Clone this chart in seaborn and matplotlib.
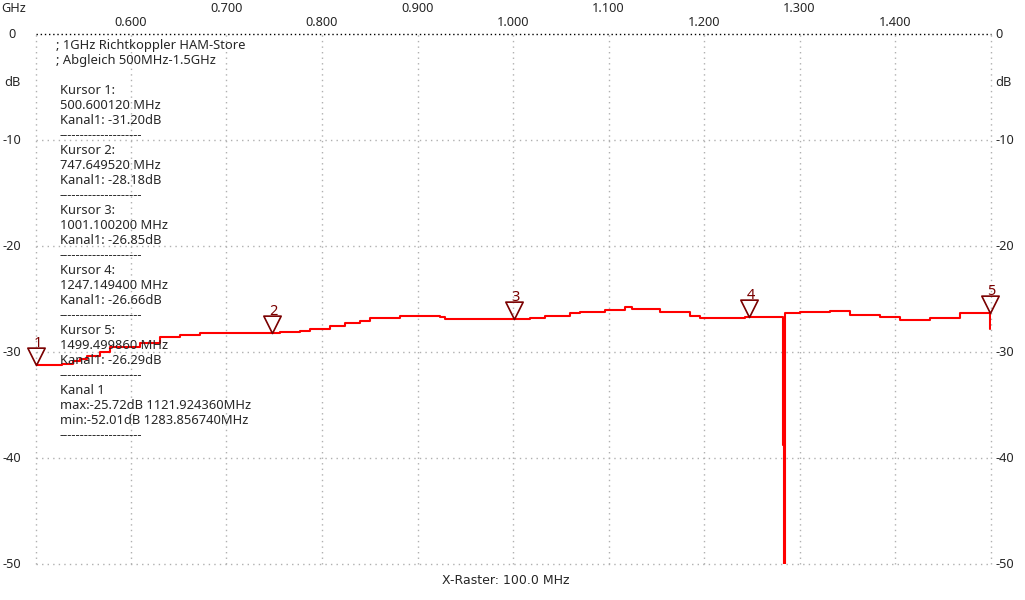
import numpy as np
import pandas as pd
import matplotlib
matplotlib.use("Agg")
import matplotlib.pyplot as plt
from matplotlib.path import Path
import seaborn as sns

freq_ghz = [0.500, 0.528, 0.539, 0.547, 0.554, 0.568, 0.578, 0.609, 0.630, 0.651,
            0.672, 0.756, 0.777, 0.787, 0.808, 0.824, 0.840, 0.850, 0.882, 0.924,
            0.929, 1.018, 1.0335, 1.060, 1.070, 1.096, 1.117, 1.1245, 1.154, 1.185,
            1.1955, 1.243, 1.2832, 1.2842, 1.2852, 1.300, 1.332, 1.353, 1.384, 1.405,
            1.437, 1.468, 1.4995]
level_db = [-31.20, -31.10, -30.81, -30.62, -30.34, -29.96, -29.49, -29.11, -28.55, -28.36,
            -28.18, -28.08, -27.98, -27.80, -27.51, -27.23, -27.04, -26.76, -26.57, -26.66,
            -26.85, -26.76, -26.57, -26.28, -26.19, -26.00, -25.72, -25.91, -26.19, -26.57,
            -26.76, -26.66, -38.80, -52.01, -26.28, -26.19, -26.10, -26.47, -26.66, -26.94,
            -26.76, -26.29, -27.80]

# Cursors
cursor_ids = ["1", "2", "3", "4", "5"]
cursor_freq = [0.50060012, 0.74764952, 1.0011002, 1.2471494, 1.49949986]
cursor_db = [-31.20, -28.18, -26.85, -26.66, -26.29]

x_ticks = [0.6, 0.7, 0.8, 0.9, 1.0, 1.1, 1.2, 1.3, 1.4]
x_grid = [0.5, 0.6, 0.7, 0.8, 0.9, 1.0, 1.1, 1.2, 1.3, 1.4, 1.5]
y_ticks = [0, -10, -20, -30, -40, -50]

info_lines = [
    "; 1GHz Richtkoppler HAM-Store",
    "; Abgleich 500MHz-1.5GHz",
    "",
    "Kursor 1:", "500.600120 MHz", "Kanal1: -31.20dB", "--------------------",
    "Kursor 2:", "747.649520 MHz", "Kanal1: -28.18dB", "--------------------",
    "Kursor 3:", "1001.100200 MHz", "Kanal1: -26.85dB", "--------------------",
    "Kursor 4:", "1247.149400 MHz", "Kanal1: -26.66dB", "--------------------",
    "Kursor 5:", "1499.499860 MHz", "Kanal1: -26.29dB", "--------------------",
    "Kanal 1", "max:-25.72dB 1121.924360MHz", "min:-52.01dB 1283.856740MHz",
    "--------------------",
]

sns.set_style("white")
plt.rcParams['font.family'] = ['Noto Sans', 'DejaVu Sans']

W, H = 1025, 600
fig = plt.figure(figsize=(W / 100, H / 100), dpi=100)
ax = fig.add_axes([35.5 / W, 36 / H, 955 / W, 530 / H])
ax.set_xlim(0.5, 1.5)
ax.set_ylim(-50, 0)
for s in ax.spines.values():
    s.set_visible(False)
ax.set_xticks([])
ax.set_yticks([])

# dotted grid
for xv in x_grid:
    ax.axvline(xv, color="#b0b0b0", lw=1, ls=(0, (1, 3)), clip_on=False, zorder=0)
for yv in y_ticks:
    ax.axhline(yv, color="black" if yv == 0 else "#b0b0b0", lw=1,
               ls=(0, (1, 3)) if yv else (0, (1, 2)), clip_on=False, zorder=0)

# trace
df = pd.DataFrame({"f": freq_ghz, "db": level_db})
sns.lineplot(data=df, x="f", y="db", ax=ax, color="#ff0000", lw=1.5,
             drawstyle="steps-post", estimator=None, sort=False, zorder=3)
ax.set_xlabel("")
ax.set_ylabel("")

# cursor triangles, tip on the trace
tri = Path([(0, 0), (-0.5, 1), (0.5, 1), (0, 0)],
           [Path.MOVETO, Path.LINETO, Path.LINETO, Path.CLOSEPOLY])
ax.plot(cursor_freq, cursor_db, ls="none", marker=tri, ms=25,
        mfc="none", mec="#7a0000", mew=1.2, clip_on=False, zorder=4)
for cid, cf, cd in zip(cursor_ids, cursor_freq, cursor_db):
    ax.annotate(cid, (cf, cd), xytext=(1.5, 21), textcoords="offset pixels",
                ha="center", va="center", fontsize=10.5, color="#7a0000",
                annotation_clip=False)

# axis labels
xt = ax.get_xaxis_transform()
for i, xv in enumerate(x_ticks):
    ypix = 22 if i % 2 == 0 else 8
    ax.text(xv, 1 + (34 - ypix) / 530, f"{xv:.3f}", transform=xt,
            ha="center", va="center", fontsize=9.2)
fig.text(1 / W, 1 - 8 / H, "GHz", ha="left", va="center", fontsize=9.2)

yt = ax.get_yaxis_transform()
for yv in y_ticks:
    ax.text(-23.5 / 955, yv, f"{yv}", transform=yt, ha="center", va="center", fontsize=9.2)
    ax.text(1 + 5 / 955, yv, f"{yv}", transform=yt, ha="left", va="center", fontsize=9.2)
ax.text(-23.5 / 955, -4.6, "dB", transform=yt, ha="center", va="center", fontsize=9.2)
ax.text(1 + 5 / 955, -4.6, "dB", transform=yt, ha="left", va="center", fontsize=9.2)

# info block
for i, line in enumerate(info_lines):
    xpix = 56 if line.startswith(";") else 60
    fig.text(xpix / W, 1 - (45.5 + 15 * i) / H, line, ha="left", va="center", fontsize=9.3)

fig.text(506 / W, 1 - 580 / H, "X-Raster: 100.0 MHz", ha="center", va="center",
         fontsize=9, family="DejaVu Sans")

fig.savefig("out.png", dpi=100, facecolor="white")
